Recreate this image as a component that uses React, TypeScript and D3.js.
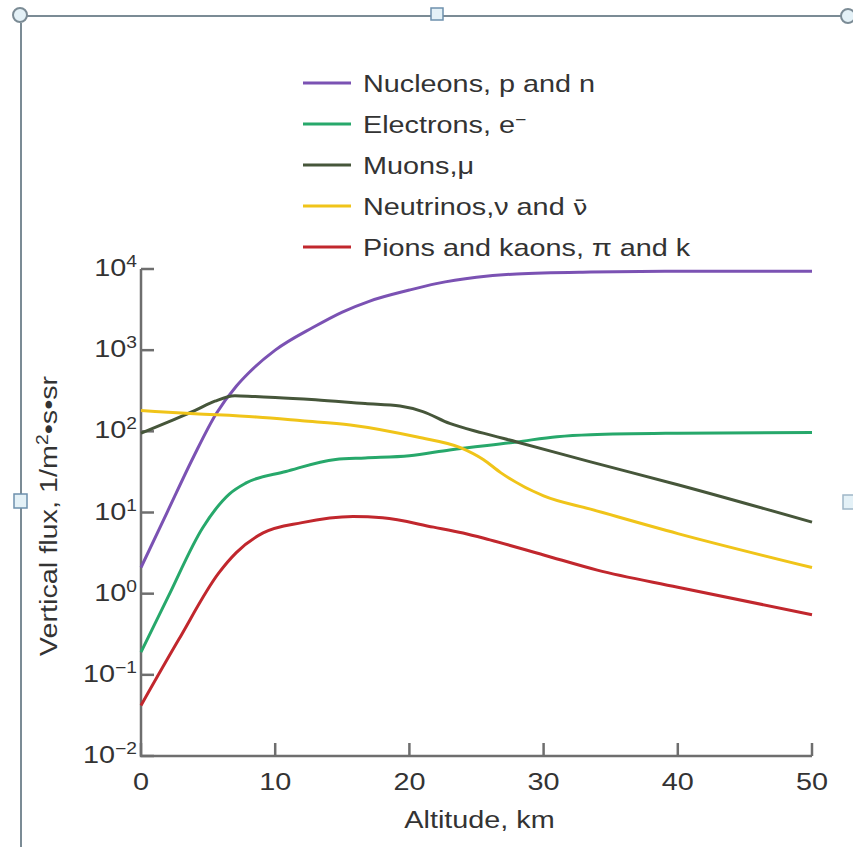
import React from "react";
import * as d3 from "d3";

// altitude (km) / vertical flux (1/m2.s.sr)
const nucleons: [number, number][] = [
  [0, 2.1], [2, 10.5], [3.9, 48], [5.6, 165], [7.1, 360], [8, 520], [10, 1000],
  [12.8, 1900], [15, 2950], [17, 4000], [20, 5500], [22, 6600], [25, 7900],
  [28, 8700], [33.5, 9200], [40, 9400], [50, 9400],
];
const electrons: [number, number][] = [
  [0, 0.19], [2, 0.9], [4.6, 6.5], [6.6, 17], [7.8, 23], [10.8, 32], [14.5, 45],
  [16.7, 47], [20, 50], [23, 59], [28, 74], [31, 86], [33.5, 91], [40, 95], [50, 97],
];
const muons: [number, number][] = [
  [0, 95], [2, 130], [4, 180], [5.5, 235], [7, 275], [8.5, 268], [10, 262],
  [13, 245], [16.7, 220], [19.3, 205], [21, 175], [23, 125], [25.5, 95],
  [28, 74], [33.5, 42], [40, 22], [50, 7.6],
];
const neutrinos: [number, number][] = [
  [0, 180], [4, 165], [8.6, 150], [12, 135], [15.6, 120], [20.6, 85], [23.8, 63],
  [25.5, 45], [26.8, 31], [30, 16], [33.5, 11], [40, 5.5], [50, 2.1],
];
const pions: [number, number][] = [
  [0, 0.042], [2.8, 0.27], [5.8, 1.8], [7.1, 3.2], [9.1, 5.6], [12, 7.5],
  [15.8, 8.9], [18, 8.6], [21.8, 6.6], [24, 5.6], [26, 4.6], [30, 3.0],
  [34, 1.95], [40, 1.2], [50, 0.55],
];

const xTicks = [0, 10, 20, 30, 40, 50];
const yExponents = [4, 3, 2, 1, 0, -1, -2];

const series = [
  { key: "nucleons", data: nucleons, color: "#7b52b3" },
  { key: "electrons", data: electrons, color: "#27a86b" },
  { key: "muons", data: muons, color: "#46563a" },
  { key: "neutrinos", data: neutrinos, color: "#f0c419" },
  { key: "pions", data: pions, color: "#c1272d" },
];

const FONT = "'Liberation Sans', Arial, sans-serif";
const SX = 1.2; // glyphs in the picture are wider than Arial

const legendLabels: React.ReactNode[] = [
  "Nucleons, p and n",
  <>Electrons, e<tspan dy={-8} fontSize={16}>−</tspan></>,
  "Muons,μ",
  <>Neutrinos,ν and <tspan fontFamily="'DejaVu Sans'" fontSize={22}>ν̄</tspan></>,
  "Pions and kaons, π and k",
];

const frame = "#7b8b95";
const handleFill = "#e4f1f7";

const App = () => {
  const W = 853, H = 847;
  const x = d3.scaleLinear().domain([0, 50]).range([141, 812]);
  const y = d3.scaleLog().domain([0.01, 1e4]).range([756, 269]);
  const line = d3
    .line<[number, number]>()
    .x(d => x(d[0]))
    .y(d => y(d[1]))
    .curve(d3.curveMonotoneX);

  const axisColor = "#6e6e6e";

  return (
    <svg width={W} height={H} style={{ position: "absolute", left: 0, top: 0, background: "#fff" }} fontFamily={FONT}>
      {/* selection frame around the picture */}
      <line x1={27} y1={16} x2={W} y2={16} stroke={frame} strokeWidth={2} />
      <line x1={21} y1={23} x2={21} y2={H} stroke={frame} strokeWidth={2} />
      <circle cx={20} cy={15} r={7} fill={handleFill} stroke={frame} strokeWidth={2} />
      <circle cx={848} cy={16} r={7} fill={handleFill} stroke={frame} strokeWidth={2} />
      <rect x={431} y={8} width={12} height={12} fill={handleFill} stroke="#6d90ad" strokeWidth={1.5} />
      <rect x={14} y={494} width={13} height={14} fill={handleFill} stroke="#6d90ad" strokeWidth={1.5} />
      <rect x={843} y={495} width={12} height={14} fill={handleFill} stroke="#9fb6c8" strokeWidth={1.5} />

      {/* axes */}
      <g stroke={axisColor} strokeWidth={2.5} fill="none">
        <path d={`M${x(0)},${y(1e4)} V${y(0.01)} H${x(50)}`} />
        {yExponents.map(e => (
          <line key={e} x1={x(0)} x2={x(0) + 13} y1={y(Math.pow(10, e))} y2={y(Math.pow(10, e))} />
        ))}
        {xTicks.map(t => (
          <line key={t} x1={x(t)} x2={x(t)} y1={y(0.01)} y2={y(0.01) - 13} />
        ))}
      </g>

      {/* y tick labels */}
      {yExponents.map(e => (
        <g key={e} transform={`translate(${x(0) - 4},${y(Math.pow(10, e)) + 7}) scale(${SX},1)`}>
          <text textAnchor="end" fontSize={24} fill="#333">
            10<tspan dy={-9} fontSize={16}>{e < 0 ? "−" + Math.abs(e) : e}</tspan>
          </text>
        </g>
      ))}

      {/* x tick labels */}
      {xTicks.map(t => (
        <g key={t} transform={`translate(${x(t)},790) scale(${SX},1)`}>
          <text textAnchor="middle" fontSize={24} fill="#333">{t}</text>
        </g>
      ))}

      <g transform={`translate(${(x(0) + x(50)) / 2 + 3},828) scale(${SX},1)`}>
        <text textAnchor="middle" fontSize={24} fill="#333">Altitude, km</text>
      </g>
      <g transform={`translate(57,516) rotate(-90) scale(${SX},1)`}>
        <text textAnchor="middle" fontSize={24} fill="#333">
          Vertical flux, 1/m<tspan dy={-9} fontSize={16}>2</tspan><tspan dy={9}>•s•sr</tspan>
        </text>
      </g>

      {/* curves */}
      {series.map(s => (
        <path key={s.key} d={line(s.data) || ""} fill="none" stroke={s.color} strokeWidth={3} strokeLinejoin="round" />
      ))}

      {/* legend */}
      {series.map((s, i) => {
        const ly = 83 + i * 41;
        return (
          <g key={s.key}>
            <line x1={303} x2={351} y1={ly} y2={ly} stroke={s.color} strokeWidth={3} />
            <g transform={`translate(363,${ly + 9}) scale(${SX},1)`}>
              <text fontSize={24} fill="#333">{legendLabels[i]}</text>
            </g>
          </g>
        );
      })}
    </svg>
  );
};

export default App;
